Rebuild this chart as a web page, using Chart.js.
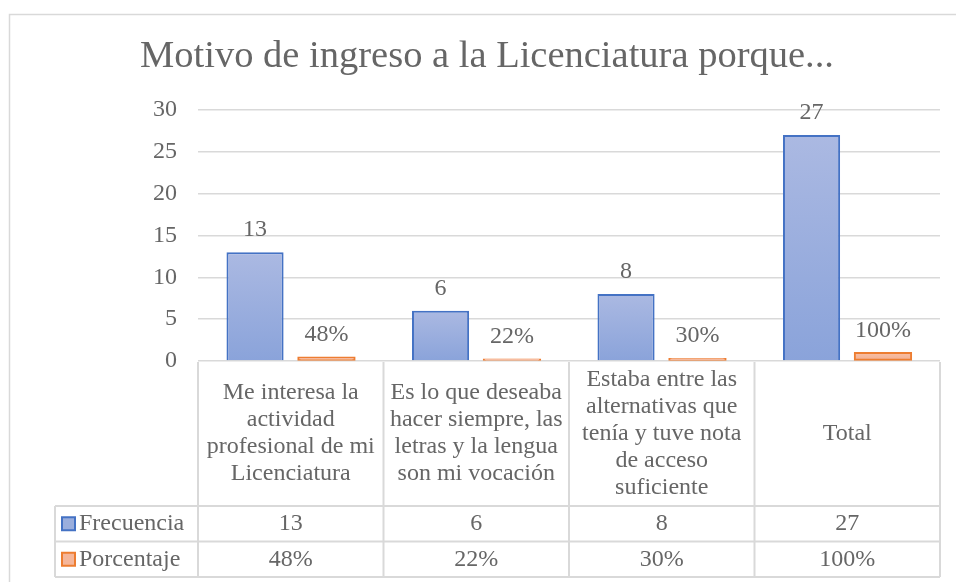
<!DOCTYPE html>
<html lang="es">
<head>
<meta charset="utf-8">
<title>Motivo de ingreso a la Licenciatura</title>
<script src="https://cdn.jsdelivr.net/npm/chart.js@4.4.1/dist/chart.umd.min.js"></script>
<style>
  html, body { margin: 0; padding: 0; background: #fff; }
  .wrap { position: relative; width: 956px; height: 582px; }
</style>
</head>
<body>
<div class="wrap"><canvas id="motivoChart"></canvas></div>
<script>
// ── Datos ──
const categorias = [
  ['Me interesa la', 'actividad', 'profesional de mi', 'Licenciatura'],
  ['Es lo que deseaba', 'hacer siempre, las', 'letras y la lengua', 'son mi vocación'],
  ['Estaba entre las', 'alternativas que', 'tenía y tuve nota', 'de acceso', 'suficiente'],
  ['Total']
];
const frecuencia = [13, 6, 8, 27];
const porcentaje = [0.48, 0.22, 0.30, 1.00];
const serieNombres = ['Frecuencia', 'Porcentaje'];
const yMin = 0, yMax = 30, yStep = 5;

// ── Estilo ──
const FONT = "'Liberation Serif', 'Times New Roman', serif";
const TEXT = '#666666';
const LINE = '#d9d9d9';
const BLUE = { top: '#abb9e2', bottom: '#8aa3da', border: '#4472c4', key: '#9aaedd' };
const ORANGE = { top: '#f8c0a6', bottom: '#f3ad8d', border: '#ed7d31', key: '#f5b69a' };

function fmt(dsIndex, v) {
  return dsIndex === 1 ? Math.round(v * 100) + '%' : String(v);
}

function barGradient(c) {
  return ctx => {
    const chart = ctx.chart;
    if (!chart.chartArea || ctx.type !== 'data') return c.bottom;
    const y = chart.scales.y;
    const top = y.getPixelForValue(ctx.raw);
    const bottom = y.getPixelForValue(0);
    if (bottom - top < 1) return c.bottom;
    const g = chart.ctx.createLinearGradient(0, top, 0, bottom);
    g.addColorStop(0, c.top);
    g.addColorStop(1, c.bottom);
    return g;
  };
}

// ── Marco exterior ──
const framePlugin = {
  id: 'frame',
  beforeDraw(chart) {
    const ctx = chart.ctx;
    ctx.save();
    ctx.strokeStyle = LINE;
    ctx.lineWidth = 1.5;
    ctx.beginPath();
    ctx.moveTo(9.5, chart.height);
    ctx.lineTo(9.5, 14.5);
    ctx.lineTo(chart.width, 14.5);
    ctx.stroke();
    ctx.restore();
  }
};

// ── Etiquetas de datos ──
const labelsPlugin = {
  id: 'barLabels',
  afterDatasetsDraw(chart) {
    const ctx = chart.ctx;
    ctx.save();
    ctx.font = '24px ' + FONT;
    ctx.fillStyle = TEXT;
    ctx.textAlign = 'center';
    ctx.textBaseline = 'alphabetic';
    chart.data.datasets.forEach((ds, i) => {
      chart.getDatasetMeta(i).data.forEach((el, j) => {
        ctx.fillText(fmt(i, ds.data[j]), el.x, el.y - 16);
      });
    });
    ctx.restore();
  }
};

// ── Tabla de datos ──
const tablePlugin = {
  id: 'dataTable',
  afterDraw(chart) {
    const ctx = chart.ctx;
    const area = chart.chartArea;
    const x = chart.scales.x;
    const n = chart.data.labels.length;
    const colW = (area.right - area.left) / n;
    const top = area.bottom + 1;
    const headBottom = 506;
    const rowH = 35.5;
    const rows = [headBottom, headBottom + rowH, headBottom + 2 * rowH];
    const keyLeft = 55;

    ctx.save();
    ctx.strokeStyle = LINE;
    ctx.lineWidth = 2;
    ctx.beginPath();
    // horizontales (la de arriba es la línea del 0)
    rows.forEach(r => { ctx.moveTo(keyLeft, r); ctx.lineTo(area.right, r); });
    // verticales
    for (let i = 0; i <= n; i++) {
      const vx = area.left + i * colW;
      ctx.moveTo(vx, top); ctx.lineTo(vx, rows[2]);
    }
    ctx.moveTo(keyLeft, rows[0]); ctx.lineTo(keyLeft, rows[2]);
    ctx.stroke();

    ctx.fillStyle = TEXT;
    ctx.font = '24px ' + FONT;
    ctx.textAlign = 'center';
    ctx.textBaseline = 'middle';
    const lh = 27;
    const midHead = (area.bottom + headBottom) / 2;
    chart.data.labels.forEach((lines, i) => {
      const cx = x.getPixelForValue(i);
      const y0 = midHead - (lines.length - 1) * lh / 2;
      lines.forEach((t, k) => ctx.fillText(t, cx, y0 + k * lh));
    });

    const keys = [BLUE, ORANGE];
    chart.data.datasets.forEach((ds, d) => {
      const cy = (rows[d] + rows[d + 1]) / 2;
      ds.data.forEach((v, i) => {
        ctx.fillText(fmt(d, v), x.getPixelForValue(i), cy);
      });
      // clave de leyenda
      ctx.fillStyle = keys[d].key;
      ctx.fillRect(62, cy - 6.5, 13, 13);
      ctx.strokeStyle = keys[d].border;
      ctx.lineWidth = 2;
      ctx.strokeRect(62, cy - 6.5, 13, 13);
      ctx.fillStyle = TEXT;
      ctx.textAlign = 'left';
      ctx.fillText(ds.label, 79, cy);
      ctx.textAlign = 'center';
    });
    ctx.restore();
  }
};

new Chart(document.getElementById('motivoChart'), {
  type: 'bar',
  data: {
    labels: categorias,
    datasets: [
      {
        label: serieNombres[0],
        data: frecuencia,
        backgroundColor: barGradient(BLUE),
        borderColor: BLUE.border,
        borderWidth: 2,
        categoryPercentage: 0.77,
        barPercentage: 0.8
      },
      {
        label: serieNombres[1],
        data: porcentaje,
        backgroundColor: barGradient(ORANGE),
        borderColor: ORANGE.border,
        borderWidth: 2,
        borderSkipped: false,
        inflateAmount: 0.6,
        categoryPercentage: 0.77,
        barPercentage: 0.8
      }
    ]
  },
  options: {
    responsive: true,
    maintainAspectRatio: false,
    animation: false,
    layout: { padding: { left: 34, right: 16, top: 0, bottom: 221 } },
    plugins: {
      legend: { display: false },
      tooltip: { enabled: false },
      title: {
        display: true,
        text: 'Motivo de ingreso a la Licenciatura porque...',
        color: TEXT,
        font: { family: FONT, size: 38.5, weight: 'normal', lineHeight: 1.2 },
        padding: { top: 34, bottom: 29.8 }
      }
    },
    scales: {
      x: { display: false },
      y: {
        min: yMin,
        max: yMax,
        border: { display: false },
        grid: { color: LINE, lineWidth: 1.5, drawTicks: false },
        ticks: {
          stepSize: yStep,
          color: TEXT,
          padding: 21,
          font: { family: FONT, size: 24 }
        },
        afterFit(scale) { scale.width = 164; }
      }
    }
  },
  plugins: [framePlugin, labelsPlugin, tablePlugin]
});
</script>
</body>
</html>
